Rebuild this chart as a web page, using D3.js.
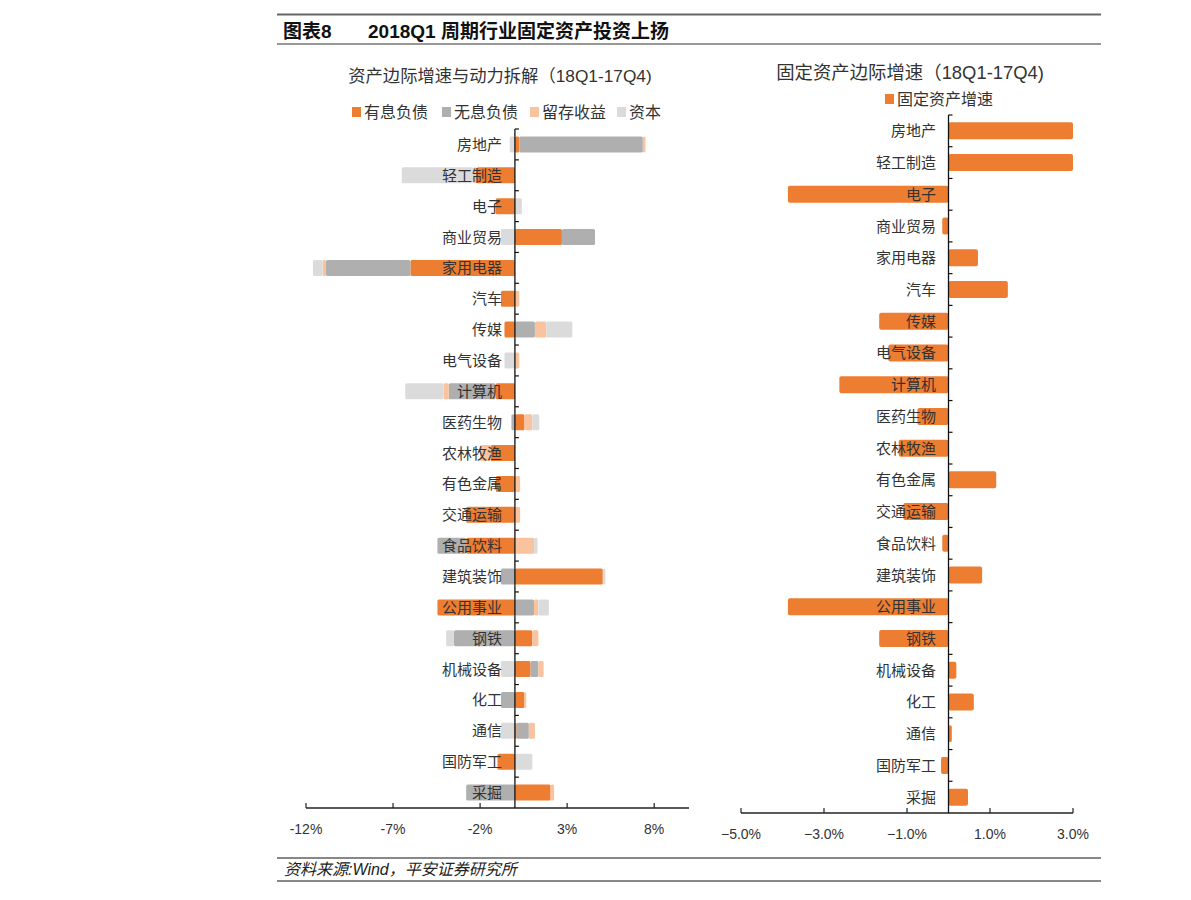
<!DOCTYPE html>
<html><head><meta charset="utf-8">
<script src="https://cdn.jsdelivr.net/npm/d3@7"></script>
<style>
body{margin:0;background:#fff;}
text{font-family:"Liberation Sans","Noto Sans CJK SC",sans-serif;}
</style></head>
<body><svg id="c" width="1191" height="900"></svg>
<script>
const categories = ['房地产','轻工制造','电子','商业贸易','家用电器','汽车','传媒','电气设备','计算机','医药生物','农林牧渔','有色金属','交通运输','食品饮料','建筑装饰','公用事业','钢铁','机械设备','化工','通信','国防军工','采掘'];
const seriesNames = ['有息负债','无息负债','留存收益','资本'];
const interestDebt    = [0.25,-2.2,-1.1, 2.7,-6.0,-0.8,-0.6, 0.0,-1.1, 0.55,-1.4,-1.1,-2.8,-2.8, 5.05,-4.45, 1.0, 0.9, 0.55, 0.1,-1.0, 2.05];
const nonInterestDebt = [7.1, 0.0, 0.0, 1.9,-4.85, 0.0, 1.15, 0.0,-2.7,-0.2, 0.0, 0.0, 0.0,-1.65,-0.8, 1.1,-3.5, 0.45,-0.8, 0.7, 0.0,-2.8];
const retainedEarnings= [0.15,-0.2, 0.0, 0.0,-0.2, 0.25, 0.65, 0.25,-0.3, 0.45,-0.6, 0.3, 0.3, 1.1, 0.0, 0.25, 0.35, 0.3, 0.1, 0.35, 0.0, 0.2];
const capital         = [-0.3,-4.1, 0.4,-0.8,-0.55, 0.0, 1.5,-0.6,-2.2, 0.4, 0.0, 0.0, 0.0, 0.2, 0.15, 0.6,-0.45,-0.8, 0.0,-0.8, 1.0, 0.0];
const fixedAssetGrowth= [3.0, 3.0,-3.87,-0.15, 0.71, 1.43,-1.67,-1.45,-2.63,-0.75,-1.2, 1.15,-1.09,-0.15, 0.81,-3.87,-1.67, 0.19, 0.61, 0.08,-0.18, 0.47];
const leftTicks  = [-12,-7,-2,3,8];
const rightTicks = [-5,-3,-1,1,3];
const seriesColors = ['#ED7D31','#AFAFAF','#F8C39E','#DBDBDB'];

const svg = d3.select('#c');
const textColor = '#333';

// header / footer rules
svg.append('line').attr('x1',277).attr('x2',1101).attr('y1',14.5).attr('y2',14.5).attr('stroke','#666').attr('stroke-width',2);
svg.append('line').attr('x1',277).attr('x2',1101).attr('y1',44).attr('y2',44).attr('stroke','#333').attr('stroke-width',1.2);
svg.append('text').attr('x',283).attr('y',38).attr('font-size',19).attr('font-weight','bold').attr('fill','#111').text('图表8');
svg.append('text').attr('x',368).attr('y',38).attr('font-size',19).attr('font-weight','bold').attr('fill','#111').text('2018Q1 周期行业固定资产投资上扬');
svg.append('line').attr('x1',277).attr('x2',1101).attr('y1',858).attr('y2',858).attr('stroke','#111').attr('stroke-width',1);
svg.append('line').attr('x1',277).attr('x2',1101).attr('y1',881).attr('y2',881).attr('stroke','#111').attr('stroke-width',1);
svg.append('text').attr('x',284).attr('y',875).attr('font-size',16).attr('font-style','italic').attr('fill','#222').text('资料来源:Wind，平安证券研究所');

// ---------- left chart ----------
const lx = d3.scaleLinear().domain([-12,10]).range([306,689]);
const lyFull = d3.scaleBand().domain(categories).range([129,808]);
const seriesData = [interestDebt, nonInterestDebt, retainedEarnings, capital];

svg.append('text').attr('x',500).attr('y',82).attr('text-anchor','middle').attr('font-size',17.3).attr('fill',textColor).text('资产边际增速与动力拆解（18Q1-17Q4)');
const legX = [352,442,530,617];
seriesNames.forEach((n,i)=>{
  svg.append('rect').attr('x',legX[i]).attr('y',107).attr('width',9).attr('height',10).attr('fill',seriesColors[i]);
  svg.append('text').attr('x',legX[i]+12).attr('y',118).attr('font-size',16).attr('fill',textColor).text(n);
});

const gL = svg.append('g');
categories.forEach((c,ci)=>{
  let pos=0, neg=0;
  seriesData.forEach((arr,si)=>{
    const v = arr[ci];
    if(!v) return;
    let x0,x1;
    if(v>0){x0=pos;x1=pos+v;pos=x1;} else {x0=neg+v;x1=neg;neg=x0;}
    gL.append('rect').attr('x',lx(x0)).attr('width',lx(x1)-lx(x0))
      .attr('y',lyFull(c)+lyFull.bandwidth()/2-8).attr('height',16)
      .attr('rx',1.5).attr('fill',seriesColors[si]);
  });
});
// left axes
const lxAxis = svg.append('g').attr('transform','translate(0,808)');
lxAxis.append('line').attr('x1',lx(-12)).attr('x2',lx(10)).attr('stroke','#222').attr('stroke-width',1.3);
leftTicks.forEach(t=>{
  lxAxis.append('line').attr('x1',lx(t)).attr('x2',lx(t)).attr('y1',0).attr('y2',-5).attr('stroke','#222').attr('stroke-width',1.2);
  lxAxis.append('text').attr('x',lx(t)).attr('y',26).attr('text-anchor','middle').attr('font-size',14).attr('fill',textColor).text(t+'%');
});
svg.append('line').attr('x1',lx(0)).attr('x2',lx(0)).attr('y1',129).attr('y2',808).attr('stroke','#111').attr('stroke-width',1.3);
categories.forEach((c,i)=>{
  svg.append('line').attr('x1',lx(0)).attr('x2',lx(0)+4).attr('y1',lyFull(c)).attr('y2',lyFull(c)).attr('stroke','#111').attr('stroke-width',1.2);
});
categories.forEach(c=>{
  svg.append('text').attr('x',502).attr('y',lyFull(c)+lyFull.bandwidth()/2+5.5).attr('text-anchor','end').attr('font-size',15).attr('fill',textColor).text(c);
});

// ---------- right chart ----------
const rx = d3.scaleLinear().domain([-5,3]).range([741,1073]).clamp(true);
const ry = d3.scaleBand().domain(categories).range([115,813]);
svg.append('text').attr('x',910).attr('y',79).attr('text-anchor','middle').attr('font-size',18.4).attr('fill',textColor).text('固定资产边际增速（18Q1-17Q4)');
svg.append('rect').attr('x',885).attr('y',94).attr('width',9).attr('height',10).attr('fill','#ED7D31');
svg.append('text').attr('x',897).attr('y',105).attr('font-size',16).attr('fill',textColor).text('固定资产增速');

svg.append('g').selectAll('rect').data(categories).join('rect')
  .attr('x',(c,i)=>rx(Math.min(0,fixedAssetGrowth[i])))
  .attr('width',(c,i)=>Math.abs(rx(fixedAssetGrowth[i])-rx(0)))
  .attr('y',c=>ry(c)+ry.bandwidth()/2-8.5).attr('height',17).attr('rx',2)
  .attr('fill','#ED7D31');
const rxAxis = svg.append('g').attr('transform','translate(0,813)');
rxAxis.append('line').attr('x1',rx(-5)).attr('x2',rx(3)).attr('stroke','#222').attr('stroke-width',1.3);
rightTicks.forEach(t=>{
  rxAxis.append('line').attr('x1',rx(t)).attr('x2',rx(t)).attr('y1',0).attr('y2',-5).attr('stroke','#222').attr('stroke-width',1.2);
  rxAxis.append('text').attr('x',rx(t)).attr('y',26).attr('text-anchor','middle').attr('font-size',14).attr('fill',textColor).text(d3.format('.1f')(t)+'%');
});
svg.append('line').attr('x1',rx(0)).attr('x2',rx(0)).attr('y1',115).attr('y2',813).attr('stroke','#111').attr('stroke-width',1.3);
categories.forEach(c=>{
  svg.append('line').attr('x1',rx(0)).attr('x2',rx(0)+4).attr('y1',ry(c)).attr('y2',ry(c)).attr('stroke','#111').attr('stroke-width',1.2);
});
categories.forEach(c=>{
  svg.append('text').attr('x',936).attr('y',ry(c)+ry.bandwidth()/2+5.5).attr('text-anchor','end').attr('font-size',15).attr('fill',textColor).text(c);
});
</script></body></html>
